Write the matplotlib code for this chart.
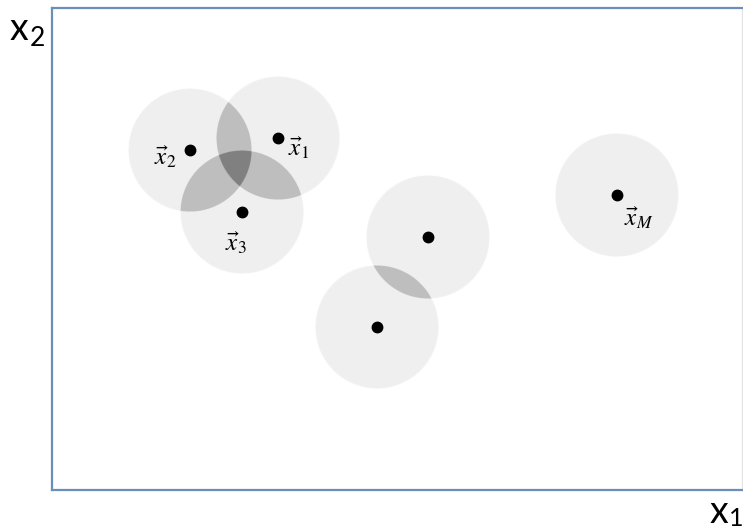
import numpy as np
import matplotlib.pyplot as plt
from matplotlib.colors import ListedColormap

# sample points in the (x1, x2) plane and the neighbourhood radius
point_x = [2.26, 1.38, 1.90, 3.76, 3.25, 5.65]
point_y = [3.52, 3.40, 2.78, 2.53, 1.63, 2.95]
point_labels = [r'$\vec{x}_1$', r'$\vec{x}_2$', r'$\vec{x}_3$', '', '', r'$\vec{x}_M$']
radius = 0.615

# label offsets from the points
label_dx = [0.21, -0.25, -0.06, 0, 0, 0.22]
label_dy = [-0.10, -0.07, -0.31, 0, 0, -0.23]

W, H = 743, 532
fig = plt.figure(figsize=(W / 100, H / 100), dpi=100)
ax = fig.add_axes([52 / W, 42 / H, 690 / W, 482 / H])
xmax, ymax = 6.90, 4.82

# how many neighbourhoods cover each point -> darker grey where they overlap
gx = np.linspace(0, xmax, 2760)
gy = np.linspace(0, ymax, 1928)
X, Y = np.meshgrid(gx, gy)
count = np.zeros_like(X)
for px, py in zip(point_x, point_y):
    count += ((X - px) ** 2 + (Y - py) ** 2 <= radius ** 2)

cmap = ListedColormap(['white', '#f0f0f0', '#bebebe', '#808080'])
ax.imshow(count, origin='lower', extent=[0, xmax, 0, ymax], cmap=cmap,
          vmin=-0.5, vmax=3.5, interpolation='antialiased', aspect='auto')

ax.plot(point_x, point_y, 'o', color='black', markersize=7.5)
for i, lab in enumerate(point_labels):
    if lab:
        ax.text(point_x[i] + label_dx[i], point_y[i] + label_dy[i], lab,
                fontsize=18, ha='center', va='center', math_fontfamily='stix')

ax.set_xlim(0, xmax)
ax.set_ylim(0, ymax)
ax.set_xticks([])
ax.set_yticks([])
for side in ['left', 'top', 'bottom']:
    ax.spines[side].set_color('#6a8fbb')
    ax.spines[side].set_linewidth(1.6)
ax.spines['right'].set_color('#e4e4e4')
ax.spines['right'].set_linewidth(1.0)

# axis names
fig.text(19 / W, 1 - 29 / H, 'x', fontsize=27, family='Lato', ha='center', va='center')
fig.text(37 / W, 1 - 38 / H, '2', fontsize=19, family='Lato', ha='center', va='center')
fig.text(719 / W, 1 - 512 / H, 'x', fontsize=27, family='Lato', ha='center', va='center')
fig.text(736 / W, 1 - 518 / H, '1', fontsize=18, family='Lato', ha='center', va='center')

fig.savefig('out.png', dpi=100)
